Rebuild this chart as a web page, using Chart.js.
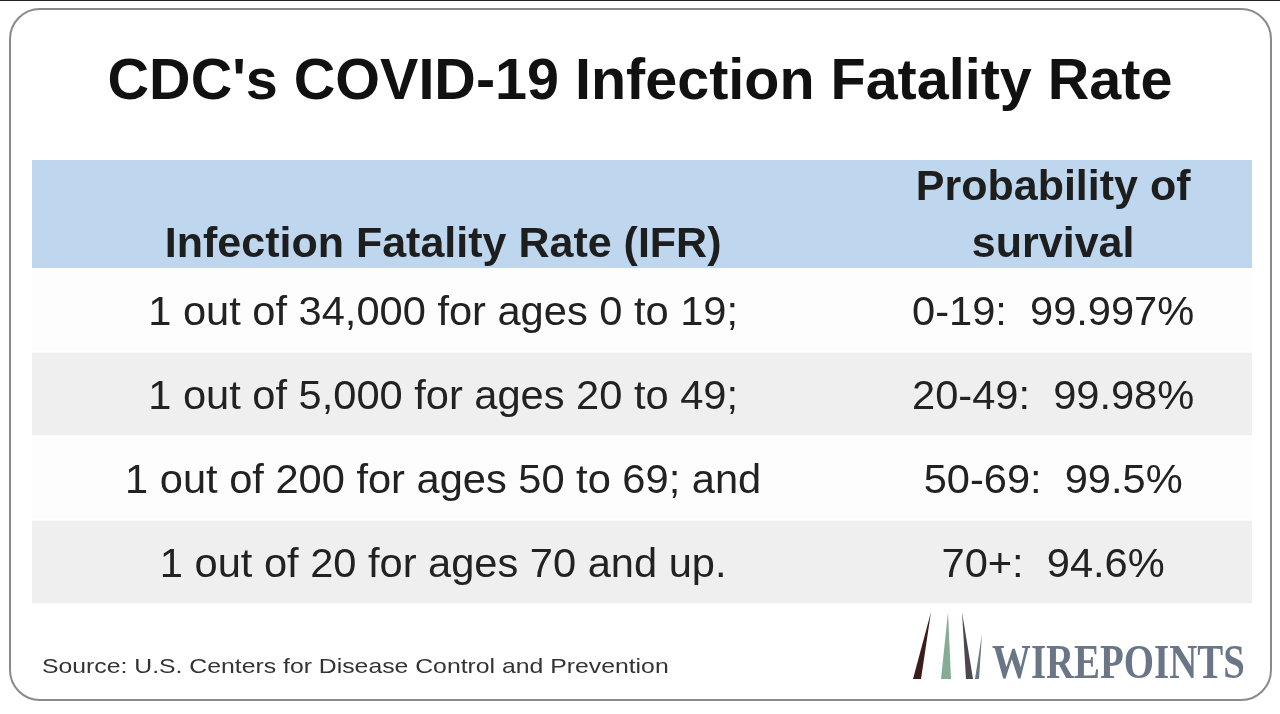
<!DOCTYPE html>
<html>
<head>
<meta charset="utf-8">
<script src="https://cdn.jsdelivr.net/npm/chart.js@4/dist/chart.umd.min.js"></script>
<style>
  html, body { margin: 0; padding: 0; background: #fff; }
  #wrap { width: 1280px; height: 714px; position: relative; }
</style>
</head>
<body>
<div id="wrap"><canvas id="myChart"></canvas></div>
<script>
// table data
const ageGroups = ['0-19', '20-49', '50-69', '70+'];
const ageRanges = ['0 to 19;', '20 to 49;', '50 to 69; and', '70 and up.'];
const oneOutOf = [34000, 5000, 200, 20];
const survival = ['99.997', '99.98', '99.5', '94.6'];
const rowShade = ['#fdfdfd', '#efefef', '#fdfdfd', '#efefef'];

const title = "CDC's COVID-19 Infection Fatality Rate";
const colHeads = [['Infection Fatality Rate (IFR)'], ['Probability of', 'survival']];
const source = 'Source: U.S. Centers for Disease Control and Prevention';

const leftText = oneOutOf.map((n, i) => '1 out of ' + n.toLocaleString('en-US') + ' for ages ' + ageRanges[i]);
const rightText = ageGroups.map((g, i) => g + ':  ' + survival[i] + '%');

const FONT = 'Arial, "Liberation Sans", sans-serif';

// draw text with a horizontal stretch factor
function txt(c, s, x, y, sx) {
  c.save();
  c.translate(x, y);
  c.scale(sx || 1, 1);
  c.fillText(s, 0, 0);
  c.restore();
}

const tablePlugin = {
  id: 'tablePlugin',
  beforeDraw(chart) {
    const c = chart.ctx, a = chart.chartArea;
    c.save();
    c.fillStyle = '#fff';
    c.fillRect(0, 0, chart.width, chart.height);
    c.fillStyle = '#222';
    c.fillRect(0, 0, chart.width, 1);
    // rounded card
    c.beginPath();
    c.roundRect(10, 9, 1261, 691, 30);
    c.fillStyle = '#fff';
    c.fill();
    c.lineWidth = 2;
    c.strokeStyle = '#8a8a8a';
    c.stroke();
    // header band
    c.fillStyle = '#bed7ee';
    c.fillRect(a.left, 160, a.right - a.left, a.top - 160);
    c.restore();
  },
  afterDatasetsDraw(chart) {
    const c = chart.ctx;
    const x = chart.scales.x, y = chart.scales.y;
    const lx = x.getPixelForValue(0.337), rx = x.getPixelForValue(0.837);
    c.save();
    c.textAlign = 'center';
    c.textBaseline = 'alphabetic';
    c.fillStyle = '#111';
    c.font = 'bold 57.5px ' + FONT;
    txt(c, title, 640, 99);

    c.fillStyle = '#1e1e1e';
    c.font = 'bold 43px ' + FONT;
    txt(c, colHeads[0][0], lx, 257);
    txt(c, colHeads[1][0], rx, 200);
    txt(c, colHeads[1][1], rx, 257);

    c.font = '40px ' + FONT;
    c.fillStyle = '#222';
    ageGroups.forEach((g, i) => {
      const py = y.getPixelForValue(i) + 15;
      txt(c, leftText[i], lx, py, 1.04);
      txt(c, rightText[i], rx, py, 1.04);
    });

    // source line
    c.textAlign = 'left';
    c.fillStyle = '#333';
    c.font = '21px ' + FONT;
    txt(c, source, 42, 673, 1.18);

    // logo
    const stripes = [
      [[931, 612], [921, 679], [913, 679], '#3a1c18'],
      [[948, 612], [951, 679], [941, 679], '#86ad94'],
      [[962, 612], [973, 679], [966, 679], '#4b4650'],
      [[982, 634], [979, 679], [975, 679], '#6a7688']
    ];
    stripes.forEach(([t, b1, b2, col]) => {
      c.beginPath();
      c.moveTo(t[0], t[1]);
      c.lineTo(b1[0], b1[1]);
      c.lineTo(b2[0], b2[1]);
      c.closePath();
      c.fillStyle = col;
      c.fill();
    });
    c.fillStyle = '#6a7688';
    c.font = 'bold 48px "Liberation Serif", "DejaVu Serif", serif';
    txt(c, 'WIREPOINTS', 992, 678, 0.81);
    c.restore();
  }
};

const ctx = document.getElementById('myChart').getContext('2d');
const myChart = new Chart(ctx, {
  type: 'bar',
  data: {
    labels: ageGroups,
    datasets: [{
      data: ageGroups.map(() => 1),
      backgroundColor: rowShade,
      borderWidth: 0,
      barPercentage: 1,
      categoryPercentage: 0.985
    }]
  },
  options: {
    indexAxis: 'y',
    responsive: true,
    maintainAspectRatio: false,
    animation: false,
    layout: { padding: { left: 32, right: 28, top: 268, bottom: 110 } },
    scales: {
      x: { display: false, min: 0, max: 1 },
      y: { display: false }
    },
    plugins: { legend: { display: false }, tooltip: { enabled: false } }
  },
  plugins: [tablePlugin]
});
</script>
</body>
</html>
